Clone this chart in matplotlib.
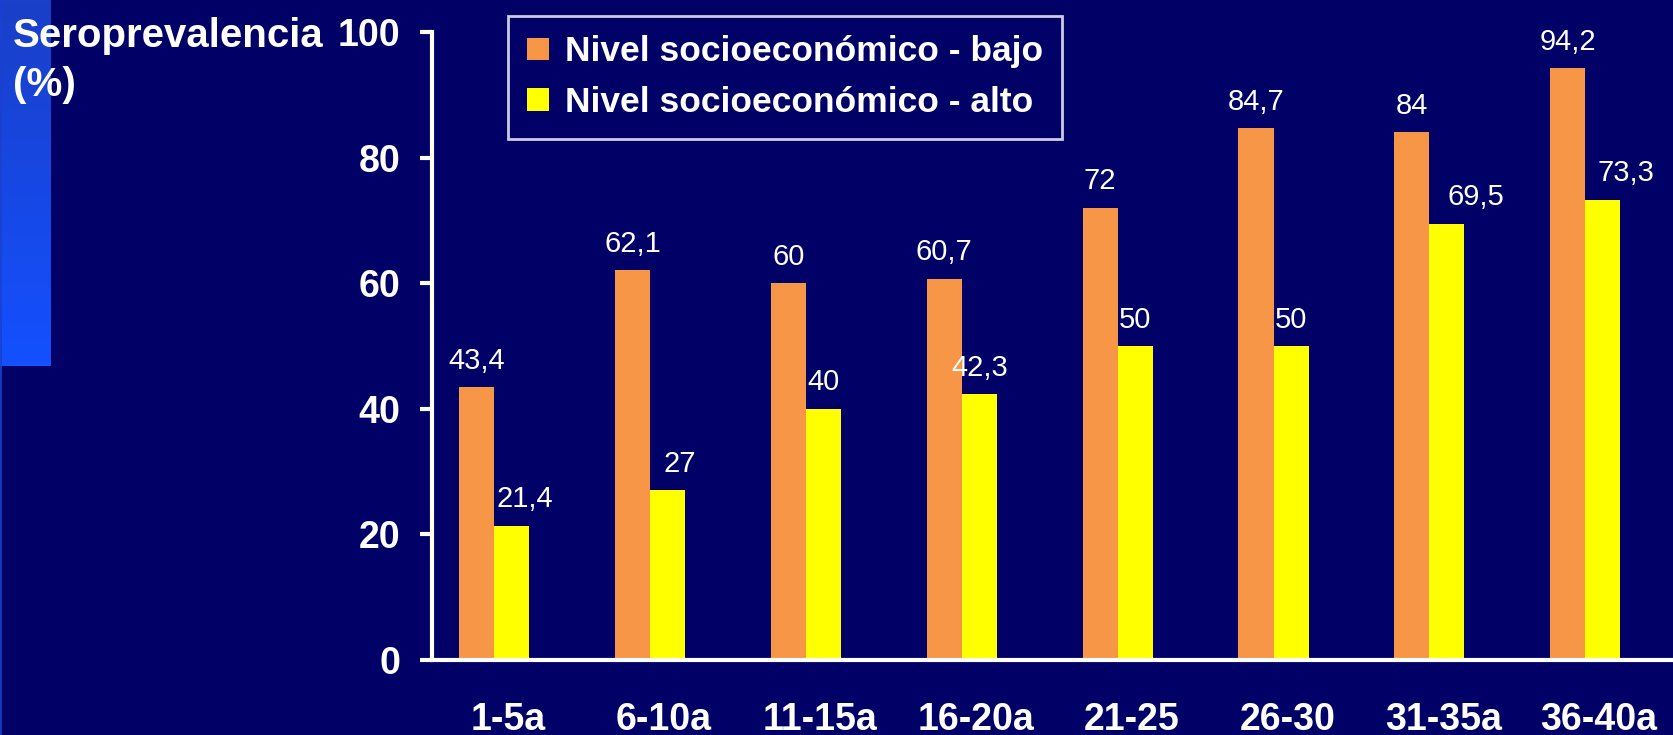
import matplotlib
matplotlib.use('Agg')
import matplotlib.pyplot as plt
import matplotlib.transforms as mtransforms
from matplotlib.patches import Patch
from matplotlib.lines import Line2D
import numpy as np

# data
age_groups = ['1-5a', '6-10a', '11-15a', '16-20a', '21-25', '26-30', '31-35a', '36-40a']
nivel_bajo = [43.4, 62.1, 60, 60.7, 72, 84.7, 84, 94.2]
nivel_alto = [21.4, 27, 40, 42.3, 50, 50, 69.5, 73.3]
bajo_txt = ['43,4', '62,1', '60', '60,7', '72', '84,7', '84', '94,2']
alto_txt = ['21,4', '27', '40', '42,3', '50', '50', '69,5', '73,3']
series_names = ['Nivel socioeconómico - bajo', 'Nivel socioeconómico - alto']

# label nudges (points) for the yellow series, as placed in the slide
alto_nudge = [9, 9, 0, 0, 0, 0, 21, 17]

bg = '#000066'
orange = '#F79646'
yellow = '#FFFF00'

plt.rcParams['font.family'] = ['Liberation Sans', 'DejaVu Sans']

fig = plt.figure(figsize=(16.74, 7.35), dpi=100, facecolor=bg)

# blue gradient stripe in the upper left corner of the slide
stripe = fig.add_axes([0, 1 - 366/735., 51/1674., 366/735.])
grad = np.linspace(0, 1, 100).reshape(-1, 1)
cmap = matplotlib.colors.LinearSegmentedColormap.from_list('s', ['#1a3fc8', '#1450ff'])
stripe.imshow(grad, aspect='auto', cmap=cmap)
stripe.axis('off')
# thin edge line running down the left side
fig.add_artist(Line2D([0.0006, 0.0006], [0, 1], transform=fig.transFigure,
                      color='#1a40d0', lw=1.2))

ax = fig.add_axes([432/1674., 1 - 660/735., 1 - 432/1674., 628/735.])
ax.set_facecolor(bg)

x = np.arange(len(age_groups))
w = 0.225
ax.bar(x - w/2, nivel_bajo, w, color=orange, zorder=2)
ax.bar(x + w/2, nivel_alto, w, color=yellow, zorder=2)

for i in range(len(x)):
    ax.annotate(bajo_txt[i], (x[i] - w/2, nivel_bajo[i]), xytext=(0, 9),
                textcoords='offset points', ha='center', va='bottom',
                color='white', fontsize=21)
    ax.annotate(alto_txt[i], (x[i] + w/2, nivel_alto[i]), xytext=(alto_nudge[i], 9),
                textcoords='offset points', ha='center', va='bottom',
                color='white', fontsize=21)

ax.set_xlim(-0.40, 7.57)
ax.set_ylim(0, 100)
ax.set_yticks([0, 20, 40, 60, 80, 100])
ax.set_xticks(x)
ax.set_xticklabels(age_groups)

for s in ['top', 'right']:
    ax.spines[s].set_visible(False)
for s in ['left', 'bottom']:
    ax.spines[s].set_color('white')
    ax.spines[s].set_linewidth(3)

ax.tick_params(axis='y', colors='white', length=9, width=3, pad=14, labelsize=27)
ax.tick_params(axis='x', colors='white', length=0, pad=30, labelsize=27)
shift = mtransforms.ScaledTranslation(10/72., 0, fig.dpi_scale_trans)
for lbl in ax.get_xticklabels():
    lbl.set_fontweight('bold')
    lbl.set_transform(lbl.get_transform() + shift)
for lbl in ax.get_yticklabels():
    lbl.set_fontweight('bold')

fig.text(13/1674., 1 - 17/735., 'Seroprevalencia\n(%)', color='white', fontsize=29,
         fontweight='bold', ha='left', va='top', linespacing=1.36)

handles = [Patch(facecolor=orange), Patch(facecolor=yellow)]
leg = fig.legend(handles, series_names, loc='upper left',
                 bbox_to_anchor=(508/1674., 1 - 16/735.), borderaxespad=0,
                 frameon=True, fancybox=False, facecolor=bg, edgecolor='white',
                 prop={'size': 25.5, 'weight': 'bold'}, labelcolor='white',
                 handlelength=0.6, handleheight=0.6, handletextpad=0.45,
                 labelspacing=0.5, borderpad=0.55)
leg.get_frame().set_linewidth(2)

fig.savefig('out.png', dpi=100, facecolor=bg)
